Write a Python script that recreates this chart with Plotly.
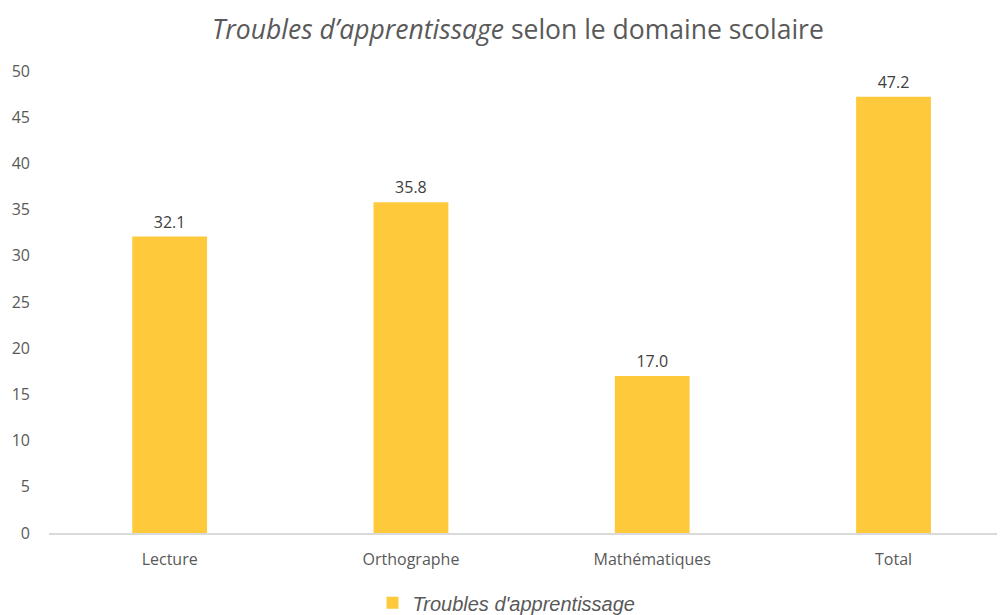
import plotly.graph_objects as go

categories = ["Lecture", "Orthographe", "Mathématiques", "Total"]
values = [32.1, 35.8, 17.0, 47.2]
series_name = "Troubles d'apprentissage"
y_ticks = [0, 5, 10, 15, 20, 25, 30, 35, 40, 45, 50]

bar_color = "#FFC93C"
text_color = "#595959"

fig = go.Figure()

fig.add_trace(go.Bar(
    x=categories,
    y=values,
    name=series_name,
    marker=dict(color=bar_color, line=dict(width=0)),
    showlegend=True,
))

# value labels above the bars, lifted a bit with an invisible marker
fig.add_trace(go.Scatter(
    x=categories,
    y=values,
    mode="markers+text",
    marker=dict(size=6, color="rgba(0,0,0,0)"),
    text=[f"{v:.1f}" for v in values],
    textposition="top center",
    textfont=dict(family="Open Sans", size=16, color="#404040"),
    cliponaxis=False,
    showlegend=False,
    hoverinfo="skip",
))

# page body adds an 8px margin, so the figure is drawn 8px smaller
fig.update_layout(
    width=997,
    height=607,
    paper_bgcolor="white",
    plot_bgcolor="white",
    margin=dict(l=41, r=0, t=63, b=82, autoexpand=False),
    bargap=0.69,
    title=dict(
        text="<i>Troubles d\u2019apprentissage</i> selon le domaine scolaire",
        x=0.5115, xanchor="center",
        y=0.964, yanchor="middle",
        font=dict(family="Open Sans", size=26.5, color=text_color),
    ),
    xaxis=dict(
        range=[-0.5, 3.462],
        automargin=False,
        showline=True, linecolor="#D9D9D9", linewidth=1.5,
        ticks="", showgrid=False, ticklabelstandoff=11,
        tickfont=dict(family="Open Sans", size=16, color=text_color),
    ),
    yaxis=dict(
        range=[0, 50],
        automargin=False,
        tickvals=y_ticks,
        showgrid=False, showline=False, zeroline=False,
        ticks="", ticklabelstandoff=18,
        tickfont=dict(family="Open Sans", size=16, color=text_color),
    ),
    legend=dict(
        orientation="h",
        xref="container", yref="container",
        x=0.5, xanchor="center",
        y=0.02, yanchor="middle",
        font=dict(family="Liberation Sans", size=20, color=text_color, style="italic"),
        itemwidth=30,
    ),
)

fig.write_html("out.html")
